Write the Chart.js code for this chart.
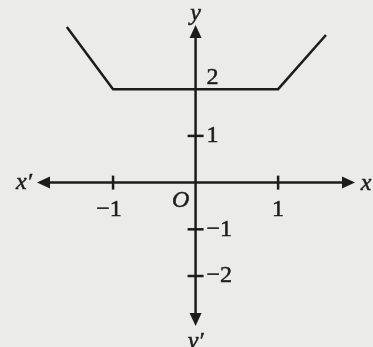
<!DOCTYPE html>
<html>
<head>
<meta charset="utf-8">
<script src="https://cdn.jsdelivr.net/npm/chart.js@4"></script>
<style>
  html, body { margin: 0; padding: 0; background: #ebebea; }
  canvas { display: block; }
</style>
</head>
<body>
<canvas id="myChart" width="373" height="347"></canvas>
<script>
// graph of f(x): flat at 2 between -1 and 1, rising on both sides
const xValues = [-1.56, -1, 1, 1.58];
const yValues = [3.33, 2, 2, 3.16];

// tick marks on each axis
const xTicks = [-1, 1];
const yTicks = [2, 1, -1, -2];
const xTickLabels = ['\u22121', '1'];
const yTickLabels = ['2', '1', '\u22121', '\u22122'];

// visible window of the plane
const xRange = [-2.37, 2.15];
const yRange = [-3.52, 3.91];

const INK = '#1c1c1c';
const SERIF = '"Liberation Serif", "Times New Roman", serif';

function arrow(ctx, x, y, dir) {
    // dir: 'up' | 'down' | 'left' | 'right', (x, y) is the tip
    const len = 13, half = 6;
    ctx.beginPath();
    if (dir === 'up') { ctx.moveTo(x, y); ctx.lineTo(x - half, y + len); ctx.lineTo(x + half, y + len); }
    if (dir === 'down') { ctx.moveTo(x, y); ctx.lineTo(x - half, y - len); ctx.lineTo(x + half, y - len); }
    if (dir === 'left') { ctx.moveTo(x, y); ctx.lineTo(x + len, y - half); ctx.lineTo(x + len, y + half); }
    if (dir === 'right') { ctx.moveTo(x, y); ctx.lineTo(x - len, y - half); ctx.lineTo(x - len, y + half); }
    ctx.closePath();
    ctx.fill();
}

// text with a hairline outline so it reads as heavy as the axes
function label(ctx, text, x, y) {
    ctx.fillText(text, x, y);
    ctx.strokeText(text, x, y);
}

// draws the cross axes, arrows, ticks and labels
const axesPlugin = {
    id: 'axesPlugin',
    beforeDatasetsDraw(chart) {
        const ctx = chart.ctx;
        const xs = chart.scales.x, ys = chart.scales.y;
        const ox = xs.getPixelForValue(0), oy = ys.getPixelForValue(0);

        ctx.save();
        ctx.strokeStyle = INK;
        ctx.fillStyle = INK;
        ctx.lineWidth = 2.5;

        // x axis
        ctx.beginPath();
        ctx.moveTo(40, oy); ctx.lineTo(350, oy);
        ctx.stroke();
        arrow(ctx, 37, oy, 'left');
        arrow(ctx, 355, oy, 'right');

        // y axis
        ctx.beginPath();
        ctx.moveTo(ox, 30); ctx.lineTo(ox, 322);
        ctx.stroke();
        arrow(ctx, ox, 25, 'up');
        arrow(ctx, ox, 326, 'down');

        // tick marks
        xTicks.forEach(v => {
            const px = xs.getPixelForValue(v);
            ctx.beginPath(); ctx.moveTo(px, oy - 7); ctx.lineTo(px, oy + 7); ctx.stroke();
        });
        yTicks.forEach(v => {
            if (v === 2) return; // the graph itself sits on y = 2
            const py = ys.getPixelForValue(v);
            ctx.beginPath(); ctx.moveTo(ox - 8, py); ctx.lineTo(ox + 8, py); ctx.stroke();
        });

        ctx.font = '24px ' + SERIF;
        ctx.textBaseline = 'middle';
        ctx.lineWidth = 0.5;

        // x tick labels
        ctx.textAlign = 'center';
        xTicks.forEach((v, i) => {
            const px = xs.getPixelForValue(v);
            label(ctx, xTickLabels[i], px + (v < 0 ? -4 : 0), oy + 27);
        });

        // y tick labels
        ctx.textAlign = 'left';
        yTicks.forEach((v, i) => {
            let py = ys.getPixelForValue(v);
            if (v === 2) py -= 11;
            label(ctx, yTickLabels[i], ox + 11, py);
        });

        // axis names and origin
        ctx.font = 'italic 24px ' + SERIF;
        ctx.textAlign = 'center';
        label(ctx, 'O', ox - 15, oy + 18);
        label(ctx, 'x\u2032', 24, oy);
        label(ctx, 'x', 366, oy + 1);
        label(ctx, 'y', ox, 14);
        ctx.textBaseline = 'alphabetic';
        label(ctx, 'y\u2032', ox, 348);
        ctx.restore();
    }
};

const ctx = document.getElementById('myChart').getContext('2d');
const myChart = new Chart(ctx, {
    type: 'scatter',
    data: {
        datasets: [{
            data: xValues.map((x, i) => ({ x: x, y: yValues[i] })),
            showLine: true,
            borderColor: INK,
            borderWidth: 2.5,
            pointRadius: 0,
            fill: false,
            tension: 0
        }]
    },
    options: {
        responsive: false,
        animation: false,
        layout: { padding: 0 },
        plugins: { legend: { display: false }, tooltip: { enabled: false } },
        scales: {
            x: { type: 'linear', min: xRange[0], max: xRange[1], display: false },
            y: { type: 'linear', min: yRange[0], max: yRange[1], display: false }
        }
    },
    plugins: [axesPlugin]
});
</script>
</body>
</html>
